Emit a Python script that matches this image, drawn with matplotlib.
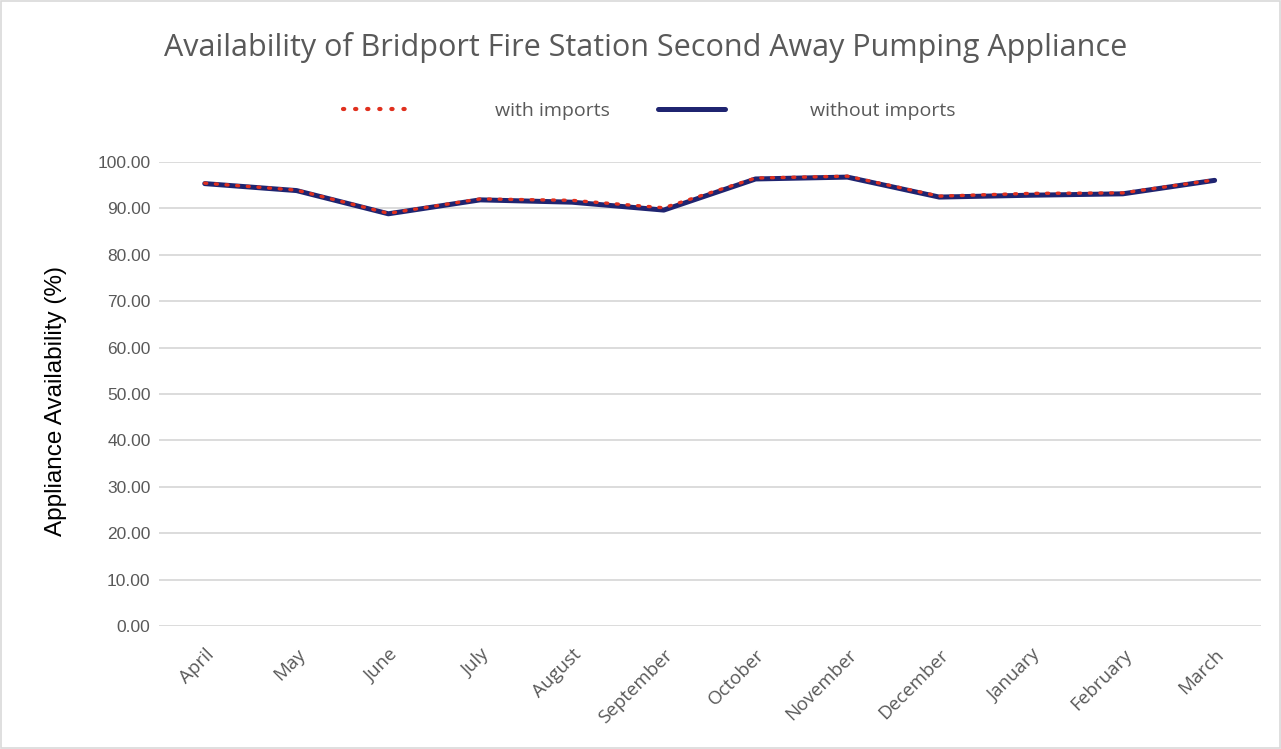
import matplotlib
matplotlib.use("Agg")
import matplotlib.pyplot as plt
from matplotlib.patches import Rectangle
from matplotlib.lines import Line2D

months = ["April", "May", "June", "July", "August", "September", "October",
          "November", "December", "January", "February", "March"]
with_imports = [95.4, 93.9, 88.9, 92.0, 91.7, 90.1, 96.5, 96.9, 92.6, 93.2, 93.3, 96.1]
without_imports = [95.3, 93.8, 88.8, 91.8, 91.3, 89.6, 96.3, 96.7, 92.4, 92.8, 93.1, 96.0]
yticks = [0, 10, 20, 30, 40, 50, 60, 70, 80, 90, 100]

fig = plt.figure(figsize=(12.81, 7.49), dpi=100)
ax = fig.add_axes([0.124, 0.164, 0.86, 0.62])

x = list(range(len(months)))
ax.plot(x, without_imports, color="#1f2470", lw=3.6, solid_capstyle="round", zorder=3)
ax.plot(x, with_imports, color="#e0301e", lw=2.4, linestyle=(0, (0.6, 2.6)),
        dash_capstyle="round", zorder=4)

ax.set_xlim(-0.5, len(months) - 0.5)
ax.set_ylim(0, 100)
ax.set_yticks(yticks)
ax.set_yticklabels([f"{v:.2f}" for v in yticks], fontsize=12.5, color="#595959",
                   family="Liberation Sans")
ax.set_xticks(x)
ax.set_xticklabels(months, rotation=45, ha="right", rotation_mode="anchor",
                   fontsize=13.5, color="#595959", family="Open Sans")
ax.tick_params(axis="y", length=0, pad=6)
ax.tick_params(axis="x", length=0, pad=14)
ax.grid(axis="y", color="#d9d9d9", lw=1.3)
ax.set_axisbelow(True)
for s in ax.spines.values():
    s.set_visible(False)
ax.set_ylabel("Appliance Availability (%)", fontsize=17.5, color="black",
              family="Liberation Sans", labelpad=22)
ax.yaxis.label.set_y(0.485)

fig.text(0.504, 0.936, "Availability of Bridport Fire Station Second Away Pumping Appliance",
         ha="center", va="center", fontsize=22, color="#595959", family="Open Sans")

# legend
h1 = Line2D([], [], color="#e0301e", lw=3.0, linestyle=(0, (0.3, 2.6)), dash_capstyle="round")
h2 = Line2D([], [], color="#1f2470", lw=3.6, solid_capstyle="round")
leg = fig.legend([h1, h2], ["with imports", "without imports"], loc="center",
                 bbox_to_anchor=(0.507, 0.852), ncol=2, frameon=False,
                 handlelength=3.4, handletextpad=4.4, columnspacing=2.5,
                 prop={"family": "Open Sans", "size": 14})
for t in leg.get_texts():
    t.set_color("#595959")

fig.patches.append(Rectangle((0.0005, 0.001), 0.999, 0.998, transform=fig.transFigure,
                             fill=False, edgecolor="#d9d9d9", lw=1.2))

fig.savefig("out.png", dpi=100)
